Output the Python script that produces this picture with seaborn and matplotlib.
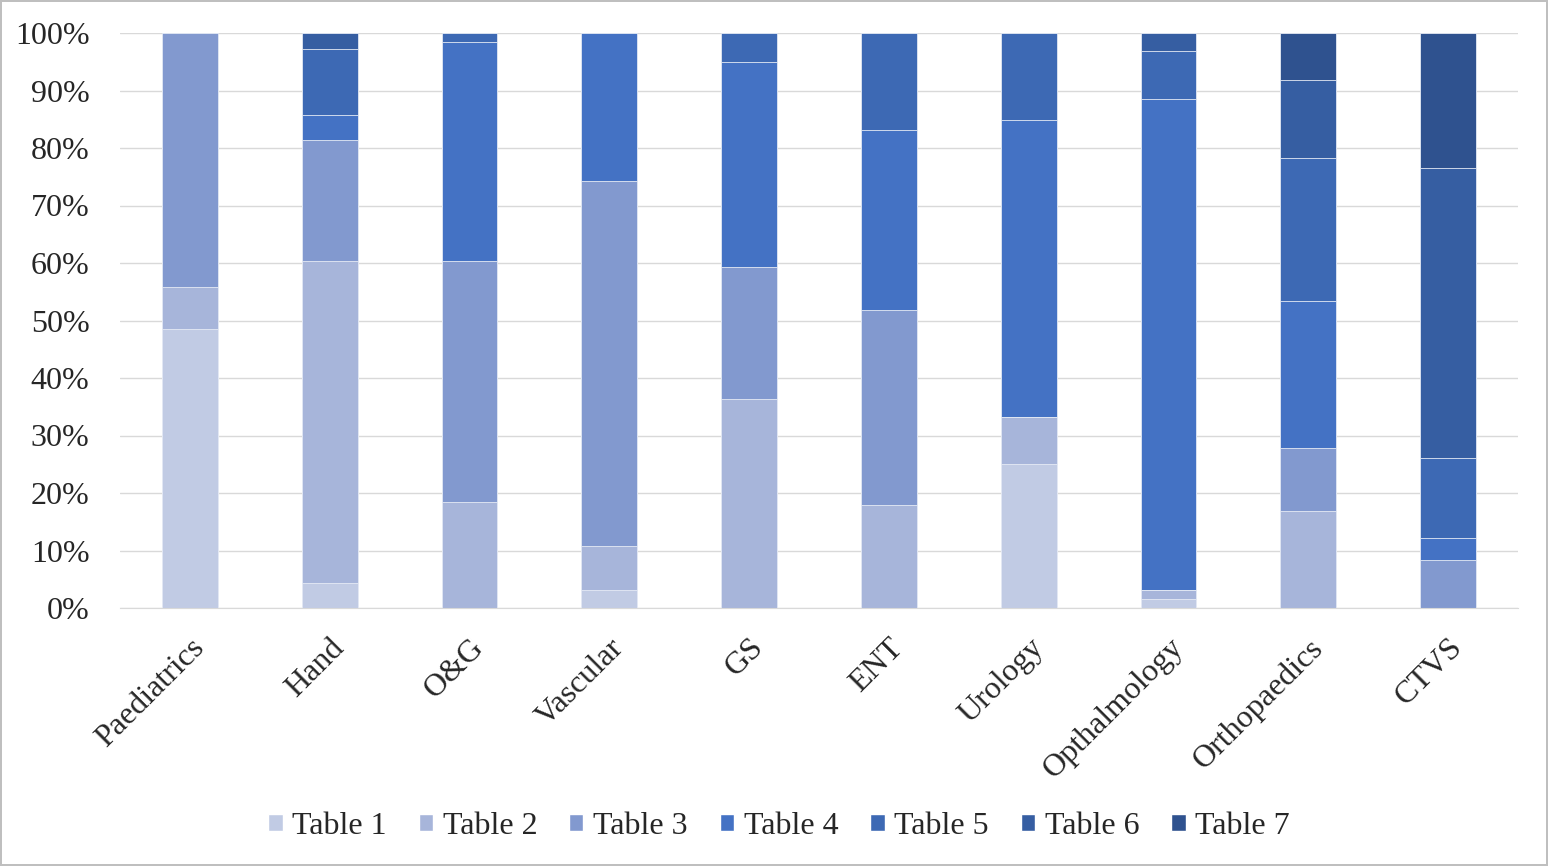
import numpy as np
import pandas as pd
import matplotlib.pyplot as plt
import seaborn as sns
from matplotlib.patches import Patch

# --- data (percent of each department) ---
departments = ['Paediatrics', 'Hand', 'O&G', 'Vascular', 'GS', 'ENT',
               'Urology', 'Opthalmology', 'Orthopaedics', 'CTVS']
series_names = ['Table 1', 'Table 2', 'Table 3', 'Table 4', 'Table 5', 'Table 6', 'Table 7']

table1 = [48.6, 4.3, 0.0, 3.2, 0.0, 0.0, 25.0, 1.5, 0.0, 0.0]
table2 = [7.3, 56.1, 18.4, 7.6, 36.4, 18.0, 8.2, 1.6, 16.8, 0.0]
table3 = [44.1, 21.0, 42.0, 63.4, 22.9, 33.9, 0.0, 0.0, 11.1, 8.4]
table4 = [0.0, 4.4, 38.1, 25.8, 35.6, 31.3, 51.6, 85.5, 25.5, 3.7]
table5 = [0.0, 11.4, 1.5, 0.0, 5.1, 16.8, 15.2, 8.3, 24.9, 14.0]
table6 = [0.0, 2.8, 0.0, 0.0, 0.0, 0.0, 0.0, 3.1, 13.6, 50.5]
table7 = [0.0, 0.0, 0.0, 0.0, 0.0, 0.0, 0.0, 0.0, 8.1, 23.4]

colors = ['#C1CBE4', '#A7B5DA', '#8299CF', '#4472C4', '#3D69B4', '#365EA2', '#2F528F']

values = np.array([table1, table2, table3, table4, table5, table6, table7])
values = values / values.sum(axis=0) * 100
cum = values.cumsum(axis=0)

sns.set_style('white')
plt.rcParams['font.family'] = ['Liberation Serif', 'DejaVu Serif']
FS = 23

fig = plt.figure(figsize=(15.48, 8.66), dpi=100, edgecolor='#BFBFBF', linewidth=1.5)
ax = fig.add_axes([120 / 1548, 1 - 608 / 866, 1398 / 1548, 575 / 866])

# draw cumulative totals from the top series down so they stack visually
for i in range(len(series_names) - 1, -1, -1):
    df = pd.DataFrame({'dept': departments, 'pct': cum[i]})
    sns.barplot(data=df, x='dept', y='pct', color=colors[i], width=0.4,
                saturation=1, edgecolor='#E6EBF5', linewidth=0.6, ax=ax, zorder=2)

ax.set_ylim(0, 100)
ax.set_xlim(-0.5, 9.5)
ax.set_yticks(np.arange(0, 101, 10))
ax.set_yticklabels([f'{v}%' for v in range(0, 101, 10)], fontsize=FS)
ax.yaxis.grid(True, color='#D9D9D9', linewidth=1, zorder=0)
ax.set_axisbelow(True)
for s in ['top', 'right', 'left']:
    ax.spines[s].set_visible(False)
ax.spines['bottom'].set_color('#D9D9D9')
ax.tick_params(axis='y', length=0, pad=22)
ax.tick_params(axis='x', length=0, pad=18)
ax.set_xlabel('')
ax.set_ylabel('')
plt.setp(ax.get_xticklabels(), rotation=45, ha='right', va='top',
         rotation_mode='anchor', fontsize=FS)

handles = [Patch(facecolor=c, label=n) for c, n in zip(colors, series_names)]
fig.legend(handles=handles, loc='center', bbox_to_anchor=(779 / 1548, 1 - 826 / 866),
           ncol=7, frameon=False, fontsize=FS, handlelength=0.45, handleheight=0.45,
           handletextpad=0.3, columnspacing=1.0)

fig.savefig('out.png', dpi=100, edgecolor=fig.get_edgecolor())
